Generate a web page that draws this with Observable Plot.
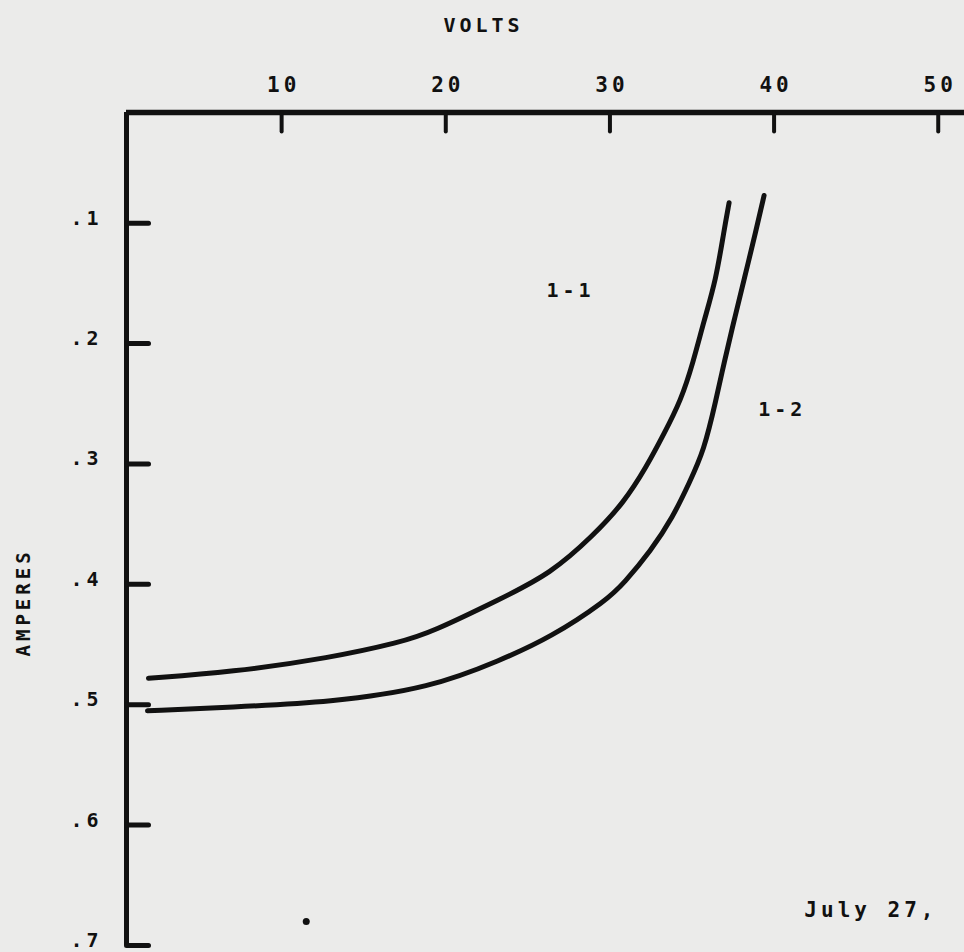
<!DOCTYPE html>
<html><head><meta charset="utf-8">
<script src="https://cdn.jsdelivr.net/npm/d3@7"></script>
<script src="https://cdn.jsdelivr.net/npm/@observablehq/plot@0.6"></script>
<style>
html,body{margin:0;padding:0;background:#ebebea;overflow:hidden;}
</style></head><body><div id="chart"></div>
<script>
// Axis ticks
const xTicks = [10, 20, 30, 40, 50];
const yTicks = [0.1, 0.2, 0.3, 0.4, 0.5, 0.6, 0.7];
// Curve 1-1
const volts11 = [1.89, 6.89, 12.99, 17.26, 19.09, 23.35, 26.40, 29.02, 30.85, 32.20, 33.29, 34.33, 35.06, 35.73, 36.46, 36.95, 37.26];
const amps11  = [0.478, 0.473, 0.461, 0.448, 0.440, 0.412, 0.391, 0.359, 0.332, 0.303, 0.275, 0.247, 0.216, 0.181, 0.147, 0.106, 0.083];
// Curve 1-2
const volts12 = [1.83, 6.89, 12.99, 19.09, 23.35, 26.40, 29.82, 30.85, 32.50, 33.84, 34.82, 35.73, 36.46, 36.95, 37.56, 38.17, 38.90, 39.39];
const amps12  = [0.505, 0.502, 0.498, 0.486, 0.463, 0.444, 0.413, 0.399, 0.372, 0.344, 0.316, 0.289, 0.247, 0.216, 0.181, 0.147, 0.106, 0.077];
// Curve labels
const labelNames = ["1-1", "1-2"];
const labelVolts = [27.6, 40.5];
const labelAmps  = [0.156, 0.255];

const xDomain = [0.55, 51.6];
const yDomain = [0.008, 0.7];

const ink = "#111";
const font = "DejaVu Sans Mono";

const series = [
  ...volts11.map((v, i) => ({volts: v, amps: amps11[i], curve: "1-1"})),
  ...volts12.map((v, i) => ({volts: v, amps: amps12[i], curve: "1-2"}))
];
const labels = labelNames.map((t, i) => ({t, volts: labelVolts[i], amps: labelAmps[i]}));

const tickShape = {draw(context, l) { context.moveTo(0, 0); context.lineTo(0, -l); }};

const chart = Plot.plot({
  width: 964,
  height: 952,
  marginTop: 112,
  marginLeft: 126,
  marginRight: 0,
  marginBottom: 7,
  style: `background:transparent;color:${ink};font-family:'${font}';font-weight:bold;letter-spacing:4px;overflow:visible;`,
  x: {domain: xDomain},
  y: {domain: yDomain, reverse: true},
  marks: [
    Plot.axisX({anchor: "top", ticks: xTicks, tickSize: 0, tickPadding: 21, label: null,
      fontSize: 21, fontFamily: font, fontWeight: "bold", dx: 2}),
    Plot.axisY({anchor: "left", ticks: yTicks, tickSize: 0, tickPadding: 24, label: null,
      tickFormat: d => d.toFixed(1).replace(/^0/, ""), fontSize: 20, fontFamily: font, fontWeight: "bold", dy: -5}),
    Plot.ruleX([xDomain[0]], {stroke: ink, strokeWidth: 5}),
    Plot.ruleY([yDomain[0]], {stroke: ink, strokeWidth: 5.5}),
    Plot.vector(xTicks, {x: d => d, frameAnchor: "top", length: 19, rotate: 180, anchor: "start",
      shape: tickShape, stroke: ink, strokeWidth: 4, strokeLinecap: "round"}),
    Plot.vector(yTicks, {y: d => d, frameAnchor: "left", length: 22, rotate: 90, anchor: "start",
      shape: tickShape, stroke: ink, strokeWidth: 5}),
    Plot.line(series, {x: "volts", y: "amps", z: "curve", curve: "basis",
      stroke: ink, strokeWidth: 5, strokeLinecap: "round"}),
    Plot.text(labels, {x: "volts", y: "amps", text: "t", fontSize: 20, fontFamily: font, fontWeight: "bold", fill: ink}),
    Plot.text(["VOLTS"], {x: [22.3], frameAnchor: "top", dy: -87, lineAnchor: "middle", textAnchor: "middle",
      fontSize: 20, fontFamily: font, fontWeight: "bold", fill: ink}),
    Plot.text(["AMPERES"], {y: [0.415], frameAnchor: "left", dx: -103, rotate: -90, textAnchor: "middle", lineAnchor: "middle",
      fontSize: 19, fontFamily: font, fontWeight: "bold", fill: ink}),
    Plot.text(["July 27,"], {x: [45.9], y: [0.671], fontSize: 21, fontFamily: font, fontWeight: "bold", fill: ink}),
    Plot.dot([11.5], {x: d => d, y: [0.680], r: 3.5, fill: ink})
  ]
});
document.getElementById("chart").appendChild(chart);
</script>
</body></html>
